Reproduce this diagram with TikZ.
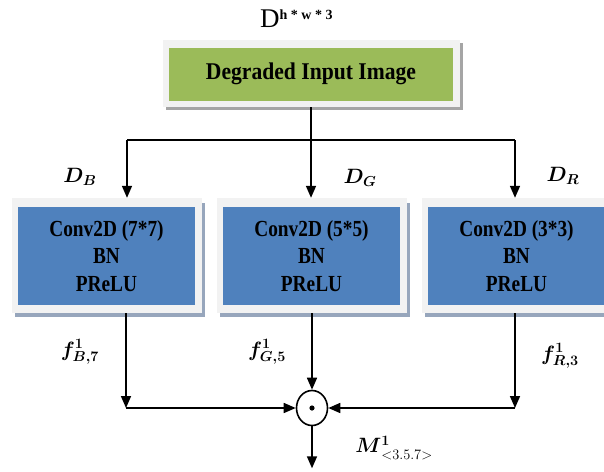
\documentclass[tikz,border=0pt]{standalone}
\usepackage{fontspec}
\setmainfont{Liberation Serif}
\newfontfamily\narrowserif[FakeStretch=0.84]{Liberation Serif}
\newfontfamily\titleserif[FakeStretch=0.9]{Liberation Serif}
\usepackage{amsmath}
\usepackage{bm}
\usetikzlibrary{arrows.meta,shapes.geometric}
\definecolor{boxblue}{HTML}{4F81BD}
\definecolor{boxgreen}{HTML}{9BBB59}
\definecolor{framec}{HTML}{F2F2F2}
\definecolor{shadowblue}{HTML}{97A6BC}
\definecolor{shadowgray}{HTML}{A5A5A5}
\tikzset{
  conn/.style={line width=1.6pt, draw=black},
  arr/.style={conn, -{Triangle[length=12pt,width=10pt]}},
  frame/.style={fill=framec, inner sep=0pt, minimum width=#1},
  layer/.style={fill=boxblue, inner sep=0pt, minimum width=177pt, minimum height=98pt,
    align=center, font=\narrowserif\fontsize{23}{27.5}\selectfont\bfseries},
  mlabel/.style={font=\fontsize{21}{24}\selectfont},
}
\begin{document}
\begin{tikzpicture}[x=1pt,y=-1pt]
\useasboundingbox (0,0) rectangle (604,471);
\begin{scope}
\clip (0,0) rectangle (604,471);
% input block
\fill[shadowgray] (166,43) rectangle (463,110);
\node[fill=framec, minimum width=297pt, minimum height=67pt, inner sep=0pt] (gf) at (311,73.5) {};
\node[fill=boxgreen, minimum width=284pt, minimum height=53pt, inner sep=0pt,
  font=\titleserif\fontsize{24}{26}\selectfont\bfseries] (g) at (311,74) {Degraded Input Image};
\node[anchor=base west, inner sep=0pt, font=\fontsize{27}{30}\selectfont] (dim) at (260,27)
  {D\raisebox{8pt}{\fontsize{14}{14}\selectfont\bfseries h * w * 3}};
% three convolution branches
\fill[shadowblue] (15,203) rectangle (205,317);
\node[frame=190pt, minimum height=115pt] (f1) at (107,255.5) {};
\node[layer] (b1) at (106.5,256) {Conv2D (7*7)\\BN\\PReLU};
\fill[shadowblue] (220,203) rectangle (410,317);
\node[frame=190pt, minimum height=115pt] (f2) at (312,255.5) {};
\node[layer] (b2) at (311.5,256) {Conv2D (5*5)\\BN\\PReLU};
\fill[shadowblue] (425,203) rectangle (615,317);
\node[frame=190pt, minimum height=115pt] (f3) at (517,255.5) {};
\node[layer] (b3) at (516.5,256) {Conv2D (3*3)\\BN\\PReLU};
\end{scope}
% split of the input
\coordinate (j1) at (127,140);
\coordinate (j2) at (gf.south |- j1);
\coordinate (j3) at (515,140);
\draw[conn] (gf.south) -- (j2);
\draw[conn] (j1) -- (j3);
\draw[arr] (j1) -- (j1 |- f1.north);
\draw[arr] (j2) -- (j2 |- f2.north);
\draw[arr] (j3) -- (j3 |- f3.north);
\node[mlabel] (lb) at (80,177) {$\bm{D_B}$};
\node[mlabel] (lg) at (360,178) {$\bm{D_G}$};
\node[mlabel] (lr) at (563,176) {$\bm{D_R}$};
% fusion by element-wise product
\node[ellipse, draw, line width=1.6pt, minimum width=31pt, minimum height=35pt, inner sep=0pt] (m) at (f2.south |- 0,408) {};
\fill (m.center) circle (2.6pt);
\coordinate (k1) at (126,408);
\coordinate (k3) at (515,408);
\draw[arr] (k1 |- f1.south) -- (k1);
\draw[arr] (k1) -- (m.west);
\draw[arr] (k3 |- f3.south) -- (k3);
\draw[arr] (k3) -- (m.east);
\draw[arr] (f2.south) -- (m.north);
\coordinate (out) at ([yshift=-42pt]m.south);
\draw[arr] (m.south) -- (out);
\node[mlabel] (fb) at (80,352) {$\bm{f^{1}_{B,7}}$};
\node[mlabel] (fg) at (267,352) {$\bm{f^{1}_{G,5}}$};
\node[mlabel] (fr) at (560,356) {$\bm{f^{1}_{R,3}}$};
\node[mlabel] (mo) at (394,448) {$\bm{M}^{\bm{1}}_{\raisebox{-2pt}{$\scriptstyle\,<3.5.7>$}}$};
\end{tikzpicture}
\end{document}
